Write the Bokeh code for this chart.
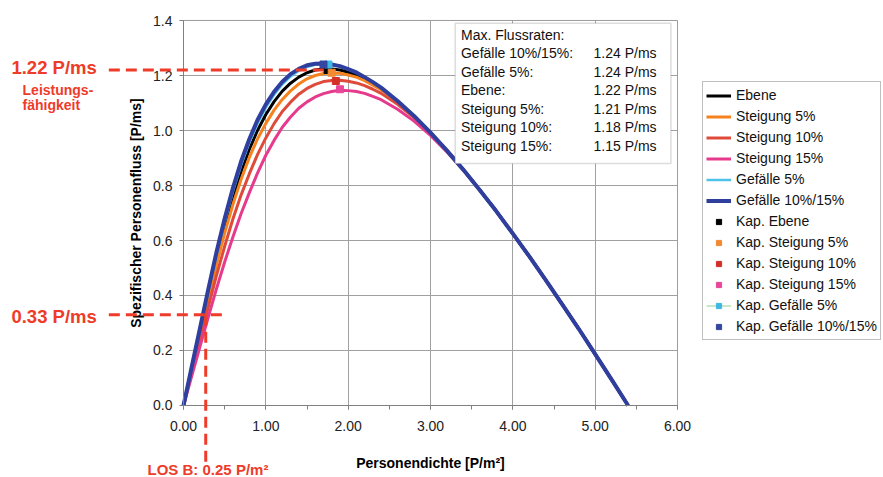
from bokeh.plotting import figure
from bokeh.models import (ColumnDataSource, Legend, LegendItem, Label, Arrow,
                          BoxAnnotation, SingleIntervalTicker, NumeralTickFormatter, Range1d)
from bokeh.embed import file_html
from bokeh.resources import INLINE

# ---------------- data ----------------
density = [0.0, 0.1, 0.2, 0.3, 0.4, 0.5, 0.6, 0.7, 0.8, 0.9, 1.0, 1.1, 1.2, 1.3,
           1.4, 1.5, 1.6, 1.7, 1.8, 1.9, 2.0, 2.1, 2.2, 2.3, 2.4,
           2.6, 2.8, 3.0, 3.2, 3.4, 3.6, 3.8, 4.0, 4.2, 4.4, 4.6, 4.8, 5.0, 5.2, 5.4]

flow_ebene = [0.0, 0.134, 0.268, 0.401, 0.530, 0.649, 0.757, 0.851, 0.932, 1.001,
              1.058, 1.105, 1.143, 1.172, 1.194, 1.210, 1.220, 1.224, 1.224, 1.220,
              1.212, 1.201, 1.187, 1.170, 1.151,
              1.105, 1.052, 0.992, 0.927, 0.857, 0.783, 0.706, 0.625, 0.542, 0.456,
              0.368, 0.279, 0.187, 0.094, 0.0]
flow_steig5 = [0.0, 0.129, 0.259, 0.387, 0.511, 0.627, 0.731, 0.823, 0.902, 0.970,
               1.026, 1.074, 1.113, 1.144, 1.169, 1.188, 1.200, 1.207, 1.209, 1.208,
               1.202, 1.194, 1.181, 1.165, 1.148,
               1.104, 1.052, 0.992, 0.927, 0.857, 0.783, 0.706, 0.625, 0.542, 0.456,
               0.368, 0.279, 0.187, 0.094, 0.0]
flow_steig10 = [0.0, 0.119, 0.239, 0.357, 0.472, 0.579, 0.678, 0.766, 0.843, 0.913,
                0.973, 1.025, 1.069, 1.103, 1.132, 1.153, 1.168, 1.178, 1.182, 1.183,
                1.179, 1.173, 1.163, 1.150, 1.135,
                1.095, 1.047, 0.990, 0.927, 0.857, 0.783, 0.706, 0.625, 0.542, 0.456,
                0.368, 0.279, 0.187, 0.094, 0.0]
flow_steig15 = [0.0, 0.107, 0.214, 0.321, 0.424, 0.522, 0.613, 0.698, 0.774, 0.846,
                0.910, 0.964, 1.012, 1.049, 1.081, 1.104, 1.122, 1.134, 1.142, 1.146,
                1.145, 1.142, 1.135, 1.124, 1.112,
                1.077, 1.034, 0.982, 0.922, 0.855, 0.783, 0.706, 0.625, 0.542, 0.456,
                0.368, 0.279, 0.187, 0.094, 0.0]
flow_gef5 = [0.0, 0.138, 0.276, 0.413, 0.546, 0.668, 0.778, 0.874, 0.956, 1.026,
             1.083, 1.130, 1.168, 1.196, 1.217, 1.231, 1.240, 1.242, 1.240, 1.234,
             1.223, 1.210, 1.194, 1.176, 1.156,
             1.107, 1.053, 0.992, 0.927, 0.857, 0.783, 0.706, 0.625, 0.542, 0.456,
             0.368, 0.279, 0.187, 0.094, 0.0]
flow_gef1015 = [0.0, 0.141, 0.281, 0.421, 0.557, 0.680, 0.791, 0.888, 0.969, 1.039,
                1.095, 1.141, 1.177, 1.205, 1.224, 1.237, 1.243, 1.244, 1.240, 1.234,
                1.223, 1.211, 1.194, 1.176, 1.156,
                1.107, 1.053, 0.992, 0.927, 0.857, 0.783, 0.706, 0.625, 0.542, 0.456,
                0.368, 0.279, 0.187, 0.094, 0.0]

series_names = ["Ebene", "Steigung 5%", "Steigung 10%", "Steigung 15%",
                "Gefälle 5%", "Gefälle 10%/15%"]
series_values = [flow_ebene, flow_steig5, flow_steig10, flow_steig15, flow_gef5, flow_gef1015]
series_colors = ["#000000", "#F5821F", "#DE4B3B", "#E63A8C", "#4DC3EA", "#2E3F9E"]
series_widths = [3, 3, 3, 3, 2.5, 4]

cap_names = ["Kap. Ebene", "Kap. Steigung 5%", "Kap. Steigung 10%", "Kap. Steigung 15%",
             "Kap. Gefälle 5%", "Kap. Gefälle 10%/15%"]
cap_density = [1.75, 1.80, 1.85, 1.90, 1.76, 1.70]
cap_flow = [1.22, 1.21, 1.18, 1.15, 1.24, 1.24]
cap_colors = ["#000000", "#F28A33", "#D4302A", "#E8479A", "#3EB8E5", "#3347A0"]

box_title = "Max. Flussraten:"
box_names = ["Gefälle 10%/15%:", "Gefälle  5%:", "Ebene:", "Steigung  5%:",
             "Steigung 10%:", "Steigung 15%:"]
box_values = ["1.24 P/ms", "1.24 P/ms", "1.22 P/ms", "1.21 P/ms", "1.18 P/ms", "1.15 P/ms"]

x_min, x_max = 0.0, 6.0
y_min, y_max = 0.0, 1.4005

los_density = 0.27
los_flow = 0.33
capacity_flow = 1.22
capacity_density = 1.76

FONT = "Liberation Sans"
RED = "#EE3B2A"
GRID = "#a0a0a0"

# ---------------- figure: frame covers the whole canvas ----------------
p = figure(width=883, height=477, title=None,
           x_range=Range1d(-2.2227, 8.5020), y_range=Range1d(-0.26182, 1.47273),
           output_backend="svg", toolbar_location=None,
           min_border=0, min_border_left=0, min_border_right=0,
           min_border_top=0, min_border_bottom=0)
p.background_fill_color = "white"
p.border_fill_color = "white"
p.outline_line_color = None

# axes placed at the data origin
p.xaxis.fixed_location = 0
p.yaxis.fixed_location = 0
p.xaxis.bounds = (x_min, x_max)
p.yaxis.bounds = (y_min, y_max)
p.xaxis.ticker = SingleIntervalTicker(interval=1, num_minor_ticks=2)
p.yaxis.ticker = SingleIntervalTicker(interval=0.2, num_minor_ticks=0)
p.xaxis.formatter = NumeralTickFormatter(format="0.00")
p.yaxis.formatter = NumeralTickFormatter(format="0.0")
p.xaxis.axis_label = "Personendichte [P/m²]"
p.yaxis.axis_label = "Spezifischer Personenfluss [P/ms]"

for ax in (p.xaxis, p.yaxis):
    ax.axis_line_color = "#808080"
    ax.major_tick_line_color = "#808080"
    ax.minor_tick_line_color = "#808080"
    ax.major_tick_out = 4
    ax.major_tick_in = 0
    ax.minor_tick_out = 4
    ax.minor_tick_in = 0
    ax.major_label_text_font = FONT
    ax.major_label_text_font_size = "14px"
    ax.major_label_text_color = "#222222"
    ax.axis_label_text_font = FONT
    ax.axis_label_text_font_size = "14px"
    ax.axis_label_text_font_style = "bold"
    ax.axis_label_text_color = "#000000"
p.yaxis.minor_tick_line_color = None
p.xaxis.major_label_standoff = 12
p.yaxis.major_label_standoff = 7
p.xaxis.axis_label_standoff = 20
p.yaxis.axis_label_standoff = 6

# grid limited to the plotting area
p.xgrid.grid_line_color = GRID
p.ygrid.grid_line_color = GRID
p.xgrid.bounds = (x_min, x_max)
p.ygrid.bounds = (y_min, y_max)
try:
    p.xgrid.cross_bounds = (y_min, y_max)
    p.ygrid.cross_bounds = (x_min, x_max)
except AttributeError:
    p.xgrid.visible = False
    p.ygrid.visible = False
    gx = [1.0, 2.0, 3.0, 4.0, 5.0]
    gy = [0.2, 0.4, 0.6, 0.8, 1.0, 1.2]
    p.segment(x0=gx, y0=[y_min] * len(gx), x1=gx, y1=[y_max] * len(gx),
              line_color=GRID, line_width=1, level="underlay")
    p.segment(x0=[x_min] * len(gy), y0=gy, x1=[x_max] * len(gy), y1=gy,
              line_color=GRID, line_width=1, level="underlay")

# plotting-area border (top / right)
p.add_layout(BoxAnnotation(left=x_min, right=x_max, bottom=y_min, top=y_max,
                           fill_alpha=0, line_color=GRID, line_width=1, level="underlay"))

# ---------------- curves ----------------
legend_items = []
for name, vals, col, w in zip(series_names, series_values, series_colors, series_widths):
    src = ColumnDataSource(dict(x=density, y=vals))
    r = p.line("x", "y", source=src, line_color=col, line_width=w)
    legend_items.append(LegendItem(label=name, renderers=[r]))

for i, (name, col) in enumerate(zip(cap_names, cap_colors)):
    src = ColumnDataSource(dict(x=[cap_density[i]], y=[cap_flow[i]]))
    rends = []
    if name == "Kap. Gefälle 5%":
        rends.append(p.line("x", "y", source=src, line_color="#C8E6C8", line_width=2))
    rends.append(p.scatter("x", "y", source=src, marker="square", size=7,
                           fill_color=col, line_color=col))
    legend_items.append(LegendItem(label=name, renderers=rends))

legend = Legend(items=legend_items, location=(702, 137),
                label_text_font=FONT, label_text_font_size="14px",
                label_text_color="#111111",
                glyph_width=25, glyph_height=13, label_height=20, spacing=1,
                padding=3, margin=0, label_standoff=5,
                border_line_color="#808080", border_line_width=1.5,
                background_fill_color="white", background_fill_alpha=1.0)
p.add_layout(legend)

# ---------------- info box ----------------
p.add_layout(BoxAnnotation(left=3.30, right=5.92, top=1.39, bottom=0.88,
                           fill_color="white", fill_alpha=1.0,
                           line_color="#909090", line_width=1.5))
row_top = 1.349
row_step = 0.0673
p.add_layout(Label(x=3.37, y=row_top, text=box_title, text_font=FONT,
                   text_font_size="14px", text_color="#111111", text_baseline="middle"))
for i, (n, v) in enumerate(zip(box_names, box_values)):
    yy = row_top - (i + 1) * row_step
    p.add_layout(Label(x=3.37, y=yy, text=n, text_font=FONT, text_font_size="14px",
                       text_color="#111111", text_baseline="middle"))
    p.add_layout(Label(x=4.98, y=yy, text=v, text_font=FONT, text_font_size="14px",
                       text_color="#111111", text_baseline="middle"))

# ---------------- red annotations ----------------
dash = "11 6"
p.add_layout(Arrow(x_start=-0.907, y_start=capacity_flow, x_end=capacity_density,
                   y_end=capacity_flow, start=None, end=None,
                   line_color=RED, line_width=3, line_dash=dash))
p.add_layout(Arrow(x_start=-0.907, y_start=los_flow, x_end=0.49, y_end=los_flow,
                   start=None, end=None, line_color=RED, line_width=3, line_dash=dash))
p.add_layout(Arrow(x_start=los_density, y_start=los_flow, x_end=los_density, y_end=-0.216,
                   start=None, end=None, line_color=RED, line_width=3, line_dash=dash))

p.add_layout(Label(x=-2.09, y=1.229, text="1.22 P/ms", text_font=FONT,
                   text_font_size="18.5px", text_font_style="bold", text_color=RED,
                   text_baseline="middle"))
p.add_layout(Label(x=-1.955, y=1.149, text="Leistungs-", text_font=FONT,
                   text_font_size="14px", text_font_style="bold", text_color=RED,
                   text_baseline="middle"))
p.add_layout(Label(x=-1.955, y=1.091, text="fähigkeit", text_font=FONT,
                   text_font_size="14px", text_font_style="bold", text_color=RED,
                   text_baseline="middle"))
p.add_layout(Label(x=-2.09, y=0.324, text="0.33 P/ms", text_font=FONT,
                   text_font_size="18.5px", text_font_style="bold", text_color=RED,
                   text_baseline="middle"))
p.add_layout(Label(x=-0.437, y=-0.2327, text="LOS B: 0.25 P/m²", text_font=FONT,
                   text_font_size="15px", text_font_style="bold", text_color=RED,
                   text_baseline="middle"))

open("out.html", "w").write(file_html(p, INLINE))
